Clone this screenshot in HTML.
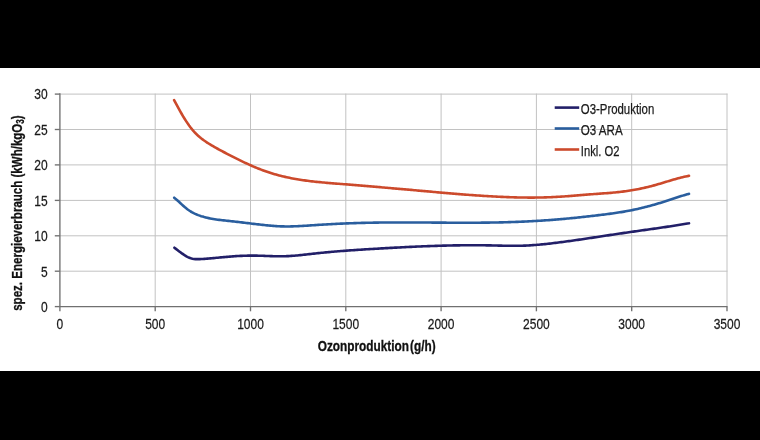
<!DOCTYPE html>
<html><head><meta charset="utf-8"><style>
html,body{margin:0;padding:0;background:#fff;}
svg{display:block;filter:blur(0.4px);}
text{font-family:"Liberation Sans",sans-serif;}
</style></head><body>
<svg width="760" height="440" viewBox="0 0 760 440">
<rect x="0" y="0" width="760" height="440" fill="#fff"/>
<rect x="0" y="0" width="760" height="68" fill="#000"/>
<rect x="0" y="371" width="760" height="69" fill="#000"/>
<g stroke="#c2c2c2" stroke-width="1" fill="none">
<line x1="155.2" y1="93.6" x2="155.2" y2="306.6"/>
<line x1="250.5" y1="93.6" x2="250.5" y2="306.6"/>
<line x1="345.8" y1="93.6" x2="345.8" y2="306.6"/>
<line x1="441.1" y1="93.6" x2="441.1" y2="306.6"/>
<line x1="536.4" y1="93.6" x2="536.4" y2="306.6"/>
<line x1="631.7" y1="93.6" x2="631.7" y2="306.6"/>
<line x1="727.0" y1="93.6" x2="727.0" y2="306.6"/>
<line x1="59.9" y1="271.2" x2="727.5" y2="271.2"/>
<line x1="59.9" y1="235.8" x2="727.5" y2="235.8"/>
<line x1="59.9" y1="200.4" x2="727.5" y2="200.4"/>
<line x1="59.9" y1="164.9" x2="727.5" y2="164.9"/>
<line x1="59.9" y1="129.5" x2="727.5" y2="129.5"/>
<line x1="59.9" y1="94.1" x2="727.5" y2="94.1"/>
</g>
<g stroke="#707070" stroke-width="1.35" fill="none">
<line x1="59.9" y1="93.2" x2="59.9" y2="306.6"/>
<line x1="59.9" y1="306.6" x2="727.5" y2="306.6"/>
<line x1="59.9" y1="306.6" x2="59.9" y2="311.3"/>
<line x1="155.2" y1="306.6" x2="155.2" y2="311.3"/>
<line x1="250.5" y1="306.6" x2="250.5" y2="311.3"/>
<line x1="345.8" y1="306.6" x2="345.8" y2="311.3"/>
<line x1="441.1" y1="306.6" x2="441.1" y2="311.3"/>
<line x1="536.4" y1="306.6" x2="536.4" y2="311.3"/>
<line x1="631.7" y1="306.6" x2="631.7" y2="311.3"/>
<line x1="727.0" y1="306.6" x2="727.0" y2="311.3"/>
<line x1="54.8" y1="306.6" x2="59.9" y2="306.6"/>
<line x1="54.8" y1="271.2" x2="59.9" y2="271.2"/>
<line x1="54.8" y1="235.8" x2="59.9" y2="235.8"/>
<line x1="54.8" y1="200.4" x2="59.9" y2="200.4"/>
<line x1="54.8" y1="164.9" x2="59.9" y2="164.9"/>
<line x1="54.8" y1="129.5" x2="59.9" y2="129.5"/>
<line x1="54.8" y1="94.1" x2="59.9" y2="94.1"/>
</g>
<g fill="#1a1a1a" stroke="#1a1a1a" stroke-width="0.25" font-size="15.5">
<text transform="translate(47.6,311.9) scale(0.775,1)" text-anchor="end">0</text>
<text transform="translate(47.6,276.5) scale(0.775,1)" text-anchor="end">5</text>
<text transform="translate(47.6,241.1) scale(0.775,1)" text-anchor="end">10</text>
<text transform="translate(47.6,205.7) scale(0.775,1)" text-anchor="end">15</text>
<text transform="translate(47.6,170.2) scale(0.775,1)" text-anchor="end">20</text>
<text transform="translate(47.6,134.8) scale(0.775,1)" text-anchor="end">25</text>
<text transform="translate(47.6,99.4) scale(0.775,1)" text-anchor="end">30</text>
<text transform="translate(59.9,329.4) scale(0.775,1)" text-anchor="middle">0</text>
<text transform="translate(155.2,329.4) scale(0.775,1)" text-anchor="middle">500</text>
<text transform="translate(250.5,329.4) scale(0.775,1)" text-anchor="middle">1000</text>
<text transform="translate(345.8,329.4) scale(0.775,1)" text-anchor="middle">1500</text>
<text transform="translate(441.1,329.4) scale(0.775,1)" text-anchor="middle">2000</text>
<text transform="translate(536.4,329.4) scale(0.775,1)" text-anchor="middle">2500</text>
<text transform="translate(631.7,329.4) scale(0.775,1)" text-anchor="middle">3000</text>
<text transform="translate(727.0,329.4) scale(0.775,1)" text-anchor="middle">3500</text>
</g>
<g fill="none" stroke-width="2.6" stroke-linecap="round" stroke-linejoin="round">
<path stroke="#cc4a2c" d="M174.10 100.07 L175.60 102.92 L177.10 105.72 L178.60 108.47 L180.10 111.16 L181.60 113.77 L183.10 116.30 L184.60 118.75 L186.10 121.09 L187.60 123.34 L189.10 125.47 L190.60 127.48 L192.10 129.37 L193.60 131.14 L195.10 132.78 L196.60 134.31 L198.10 135.72 L199.60 137.04 L201.10 138.27 L202.60 139.42 L204.10 140.51 L205.60 141.55 L207.10 142.55 L208.60 143.52 L210.10 144.45 L211.60 145.35 L213.10 146.23 L214.60 147.09 L216.10 147.93 L217.60 148.76 L219.10 149.57 L220.60 150.38 L222.10 151.18 L223.60 151.98 L225.10 152.77 L226.60 153.56 L228.10 154.35 L229.60 155.13 L231.10 155.91 L232.60 156.67 L234.10 157.44 L235.60 158.19 L237.10 158.94 L238.60 159.68 L240.10 160.41 L241.60 161.14 L243.10 161.85 L244.60 162.56 L246.10 163.26 L247.60 163.94 L249.10 164.62 L250.60 165.28 L252.10 165.94 L253.60 166.58 L255.10 167.21 L256.60 167.83 L258.10 168.44 L259.60 169.03 L261.10 169.61 L262.60 170.18 L264.10 170.73 L265.60 171.27 L267.10 171.79 L268.60 172.29 L270.10 172.79 L271.60 173.26 L273.10 173.72 L274.60 174.16 L276.10 174.59 L277.60 175.01 L279.10 175.41 L280.60 175.80 L282.10 176.17 L283.60 176.53 L285.10 176.88 L286.60 177.21 L288.10 177.53 L289.60 177.85 L291.10 178.15 L292.60 178.43 L294.10 178.71 L295.60 178.98 L297.10 179.24 L298.60 179.49 L300.10 179.72 L301.60 179.95 L303.10 180.18 L304.60 180.39 L306.10 180.59 L307.60 180.79 L309.10 180.98 L310.60 181.17 L312.10 181.34 L313.60 181.51 L315.10 181.68 L316.60 181.84 L318.10 181.99 L319.60 182.14 L321.10 182.29 L322.60 182.43 L324.10 182.57 L325.60 182.70 L327.10 182.83 L328.60 182.96 L330.10 183.09 L331.60 183.21 L333.10 183.34 L334.60 183.46 L336.10 183.58 L337.60 183.70 L339.10 183.82 L340.60 183.94 L342.10 184.06 L343.60 184.18 L345.10 184.30 L346.60 184.42 L348.10 184.54 L349.60 184.66 L351.10 184.78 L352.60 184.91 L354.10 185.03 L355.60 185.15 L357.10 185.28 L358.60 185.40 L360.10 185.53 L361.60 185.65 L363.10 185.77 L364.60 185.90 L366.10 186.03 L367.60 186.15 L369.10 186.28 L370.60 186.40 L372.10 186.53 L373.60 186.66 L375.10 186.79 L376.60 186.91 L378.10 187.04 L379.60 187.17 L381.10 187.30 L382.60 187.43 L384.10 187.56 L385.60 187.68 L387.10 187.81 L388.60 187.94 L390.10 188.07 L391.60 188.20 L393.10 188.33 L394.60 188.47 L396.10 188.60 L397.60 188.73 L399.10 188.86 L400.60 188.99 L402.10 189.12 L403.60 189.26 L405.10 189.39 L406.60 189.52 L408.10 189.65 L409.60 189.79 L411.10 189.92 L412.60 190.05 L414.10 190.19 L415.60 190.32 L417.10 190.45 L418.60 190.59 L420.10 190.72 L421.60 190.86 L423.10 190.99 L424.60 191.13 L426.10 191.26 L427.60 191.40 L429.10 191.53 L430.60 191.66 L432.10 191.80 L433.60 191.93 L435.10 192.06 L436.60 192.20 L438.10 192.33 L439.60 192.46 L441.10 192.59 L442.60 192.72 L444.10 192.85 L445.60 192.98 L447.10 193.11 L448.60 193.24 L450.10 193.37 L451.60 193.49 L453.10 193.62 L454.60 193.74 L456.10 193.87 L457.60 193.99 L459.10 194.11 L460.60 194.23 L462.10 194.35 L463.60 194.47 L465.10 194.58 L466.60 194.70 L468.10 194.81 L469.60 194.93 L471.10 195.04 L472.60 195.15 L474.10 195.25 L475.60 195.36 L477.10 195.46 L478.60 195.57 L480.10 195.67 L481.60 195.76 L483.10 195.86 L484.60 195.96 L486.10 196.05 L487.60 196.14 L489.10 196.23 L490.60 196.32 L492.10 196.40 L493.60 196.48 L495.10 196.56 L496.60 196.64 L498.10 196.71 L499.60 196.79 L501.10 196.86 L502.60 196.92 L504.10 196.99 L505.60 197.05 L507.10 197.11 L508.60 197.16 L510.10 197.22 L511.60 197.27 L513.10 197.31 L514.60 197.35 L516.10 197.39 L517.60 197.43 L519.10 197.46 L520.60 197.49 L522.10 197.52 L523.60 197.54 L525.10 197.55 L526.60 197.57 L528.10 197.58 L529.60 197.58 L531.10 197.58 L532.60 197.58 L534.10 197.58 L535.60 197.56 L537.10 197.55 L538.60 197.53 L540.10 197.50 L541.60 197.47 L543.10 197.44 L544.60 197.40 L546.10 197.36 L547.60 197.31 L549.10 197.25 L550.60 197.19 L552.10 197.13 L553.60 197.06 L555.10 196.99 L556.60 196.90 L558.10 196.82 L559.60 196.73 L561.10 196.63 L562.60 196.53 L564.10 196.43 L565.60 196.32 L567.10 196.21 L568.60 196.10 L570.10 195.98 L571.60 195.86 L573.10 195.75 L574.60 195.62 L576.10 195.50 L577.60 195.38 L579.10 195.25 L580.60 195.13 L582.10 195.01 L583.60 194.88 L585.10 194.76 L586.60 194.64 L588.10 194.52 L589.60 194.41 L591.10 194.29 L592.60 194.18 L594.10 194.07 L595.60 193.96 L597.10 193.86 L598.60 193.75 L600.10 193.64 L601.60 193.53 L603.10 193.42 L604.60 193.31 L606.10 193.20 L607.60 193.08 L609.10 192.96 L610.60 192.83 L612.10 192.70 L613.60 192.57 L615.10 192.42 L616.60 192.27 L618.10 192.12 L619.60 191.95 L621.10 191.78 L622.60 191.60 L624.10 191.41 L625.60 191.21 L627.10 190.99 L628.60 190.77 L630.10 190.54 L631.60 190.29 L633.10 190.04 L634.60 189.78 L636.10 189.50 L637.60 189.21 L639.10 188.92 L640.60 188.61 L642.10 188.29 L643.60 187.97 L645.10 187.63 L646.60 187.28 L648.10 186.92 L649.60 186.55 L651.10 186.16 L652.60 185.77 L654.10 185.37 L655.60 184.95 L657.10 184.53 L658.60 184.09 L660.10 183.65 L661.60 183.20 L663.10 182.75 L664.60 182.30 L666.10 181.84 L667.60 181.38 L669.10 180.93 L670.60 180.47 L672.10 180.03 L673.60 179.59 L675.10 179.15 L676.60 178.73 L678.10 178.32 L679.60 177.92 L681.10 177.53 L682.60 177.16 L684.10 176.81 L685.60 176.48 L687.10 176.17 L688.60 175.88 L689.00 175.80"/>
<path stroke="#2a5e9e" d="M174.20 197.74 L175.70 198.93 L177.20 200.21 L178.70 201.56 L180.20 202.94 L181.70 204.34 L183.20 205.71 L184.70 207.05 L186.20 208.31 L187.70 209.48 L189.20 210.53 L190.70 211.50 L192.20 212.36 L193.70 213.15 L195.20 213.87 L196.70 214.51 L198.20 215.10 L199.70 215.64 L201.20 216.15 L202.70 216.61 L204.20 217.04 L205.70 217.43 L207.20 217.80 L208.70 218.14 L210.20 218.45 L211.70 218.73 L213.20 219.00 L214.70 219.24 L216.20 219.47 L217.70 219.68 L219.20 219.87 L220.70 220.06 L222.20 220.23 L223.70 220.40 L225.20 220.57 L226.70 220.73 L228.20 220.89 L229.70 221.05 L231.20 221.21 L232.70 221.38 L234.20 221.55 L235.70 221.72 L237.20 221.89 L238.70 222.06 L240.20 222.23 L241.70 222.41 L243.20 222.59 L244.70 222.76 L246.20 222.94 L247.70 223.12 L249.20 223.30 L250.70 223.48 L252.20 223.67 L253.70 223.85 L255.20 224.03 L256.70 224.21 L258.20 224.39 L259.70 224.56 L261.20 224.73 L262.70 224.90 L264.20 225.06 L265.70 225.22 L267.20 225.37 L268.70 225.51 L270.20 225.65 L271.70 225.77 L273.20 225.89 L274.70 226.00 L276.20 226.10 L277.70 226.19 L279.20 226.27 L280.70 226.33 L282.20 226.38 L283.70 226.42 L285.20 226.44 L286.70 226.45 L288.20 226.45 L289.70 226.43 L291.20 226.41 L292.70 226.37 L294.20 226.32 L295.70 226.27 L297.20 226.20 L298.70 226.13 L300.20 226.06 L301.70 225.97 L303.20 225.88 L304.70 225.79 L306.20 225.70 L307.70 225.60 L309.20 225.50 L310.70 225.39 L312.20 225.29 L313.70 225.19 L315.20 225.09 L316.70 224.99 L318.20 224.89 L319.70 224.80 L321.20 224.70 L322.70 224.61 L324.20 224.52 L325.70 224.44 L327.20 224.35 L328.70 224.27 L330.20 224.19 L331.70 224.11 L333.20 224.03 L334.70 223.95 L336.20 223.88 L337.70 223.81 L339.20 223.74 L340.70 223.67 L342.20 223.60 L343.70 223.54 L345.20 223.47 L346.70 223.41 L348.20 223.36 L349.70 223.30 L351.20 223.24 L352.70 223.19 L354.20 223.14 L355.70 223.09 L357.20 223.04 L358.70 223.00 L360.20 222.96 L361.70 222.91 L363.20 222.87 L364.70 222.84 L366.20 222.80 L367.70 222.77 L369.20 222.74 L370.70 222.71 L372.20 222.68 L373.70 222.65 L375.20 222.63 L376.70 222.60 L378.20 222.58 L379.70 222.56 L381.20 222.55 L382.70 222.53 L384.20 222.51 L385.70 222.50 L387.20 222.49 L388.70 222.48 L390.20 222.47 L391.70 222.46 L393.20 222.46 L394.70 222.45 L396.20 222.45 L397.70 222.44 L399.20 222.44 L400.70 222.44 L402.20 222.44 L403.70 222.44 L405.20 222.44 L406.70 222.45 L408.20 222.45 L409.70 222.46 L411.20 222.46 L412.70 222.47 L414.20 222.47 L415.70 222.48 L417.20 222.49 L418.70 222.50 L420.20 222.50 L421.70 222.51 L423.20 222.52 L424.70 222.53 L426.20 222.54 L427.70 222.55 L429.20 222.56 L430.70 222.57 L432.20 222.58 L433.70 222.59 L435.20 222.60 L436.70 222.61 L438.20 222.62 L439.70 222.63 L441.20 222.64 L442.70 222.65 L444.20 222.66 L445.70 222.67 L447.20 222.68 L448.70 222.69 L450.20 222.70 L451.70 222.70 L453.20 222.71 L454.70 222.72 L456.20 222.72 L457.70 222.73 L459.20 222.73 L460.70 222.73 L462.20 222.74 L463.70 222.74 L465.20 222.74 L466.70 222.74 L468.20 222.74 L469.70 222.74 L471.20 222.73 L472.70 222.73 L474.20 222.72 L475.70 222.72 L477.20 222.71 L478.70 222.70 L480.20 222.69 L481.70 222.67 L483.20 222.66 L484.70 222.65 L486.20 222.63 L487.70 222.61 L489.20 222.59 L490.70 222.57 L492.20 222.55 L493.70 222.52 L495.20 222.49 L496.70 222.46 L498.20 222.43 L499.70 222.40 L501.20 222.37 L502.70 222.33 L504.20 222.29 L505.70 222.25 L507.20 222.21 L508.70 222.16 L510.20 222.11 L511.70 222.06 L513.20 222.01 L514.70 221.96 L516.20 221.90 L517.70 221.84 L519.20 221.78 L520.70 221.72 L522.20 221.65 L523.70 221.59 L525.20 221.52 L526.70 221.44 L528.20 221.37 L529.70 221.29 L531.20 221.21 L532.70 221.13 L534.20 221.05 L535.70 220.96 L537.20 220.87 L538.70 220.78 L540.20 220.69 L541.70 220.59 L543.20 220.49 L544.70 220.39 L546.20 220.29 L547.70 220.18 L549.20 220.08 L550.70 219.96 L552.20 219.85 L553.70 219.74 L555.20 219.62 L556.70 219.50 L558.20 219.37 L559.70 219.25 L561.20 219.12 L562.70 218.99 L564.20 218.85 L565.70 218.72 L567.20 218.58 L568.70 218.44 L570.20 218.29 L571.70 218.15 L573.20 218.00 L574.70 217.85 L576.20 217.69 L577.70 217.54 L579.20 217.38 L580.70 217.22 L582.20 217.06 L583.70 216.90 L585.20 216.73 L586.70 216.56 L588.20 216.39 L589.70 216.22 L591.20 216.05 L592.70 215.88 L594.20 215.70 L595.70 215.52 L597.20 215.34 L598.70 215.16 L600.20 214.98 L601.70 214.80 L603.20 214.62 L604.70 214.43 L606.20 214.24 L607.70 214.05 L609.20 213.85 L610.70 213.65 L612.20 213.44 L613.70 213.23 L615.20 213.02 L616.70 212.80 L618.20 212.57 L619.70 212.34 L621.20 212.10 L622.70 211.85 L624.20 211.60 L625.70 211.33 L627.20 211.06 L628.70 210.78 L630.20 210.50 L631.70 210.20 L633.20 209.89 L634.70 209.57 L636.20 209.25 L637.70 208.91 L639.20 208.57 L640.70 208.21 L642.20 207.85 L643.70 207.48 L645.20 207.10 L646.70 206.72 L648.20 206.32 L649.70 205.92 L651.20 205.51 L652.70 205.09 L654.20 204.66 L655.70 204.22 L657.20 203.78 L658.70 203.33 L660.20 202.88 L661.70 202.41 L663.20 201.94 L664.70 201.46 L666.20 200.98 L667.70 200.49 L669.20 199.99 L670.70 199.50 L672.20 199.00 L673.70 198.51 L675.20 198.01 L676.70 197.52 L678.20 197.04 L679.70 196.56 L681.20 196.09 L682.70 195.62 L684.20 195.17 L685.70 194.73 L687.20 194.30 L688.70 193.89 L689.00 193.81"/>
<path stroke="#221f68" d="M174.40 247.70 L175.90 248.85 L177.40 250.01 L178.90 251.16 L180.40 252.29 L181.90 253.39 L183.40 254.43 L184.90 255.40 L186.40 256.29 L187.90 257.07 L189.40 257.73 L190.90 258.27 L192.40 258.67 L193.90 258.95 L195.40 259.11 L196.90 259.17 L198.40 259.16 L199.90 259.10 L201.40 259.02 L202.90 258.94 L204.40 258.84 L205.90 258.74 L207.40 258.62 L208.90 258.50 L210.40 258.38 L211.90 258.25 L213.40 258.11 L214.90 257.97 L216.40 257.83 L217.90 257.68 L219.40 257.54 L220.90 257.39 L222.40 257.25 L223.90 257.11 L225.40 256.97 L226.90 256.84 L228.40 256.71 L229.90 256.58 L231.40 256.47 L232.90 256.36 L234.40 256.25 L235.90 256.16 L237.40 256.07 L238.90 255.98 L240.40 255.91 L241.90 255.84 L243.40 255.78 L244.90 255.73 L246.40 255.69 L247.90 255.65 L249.40 255.63 L250.90 255.61 L252.40 255.61 L253.90 255.61 L255.40 255.62 L256.90 255.64 L258.40 255.68 L259.90 255.71 L261.40 255.76 L262.90 255.81 L264.40 255.87 L265.90 255.93 L267.40 255.98 L268.90 256.04 L270.40 256.10 L271.90 256.15 L273.40 256.20 L274.90 256.24 L276.40 256.27 L277.90 256.30 L279.40 256.31 L280.90 256.31 L282.40 256.30 L283.90 256.27 L285.40 256.23 L286.90 256.17 L288.40 256.10 L289.90 256.02 L291.40 255.92 L292.90 255.81 L294.40 255.69 L295.90 255.56 L297.40 255.43 L298.90 255.28 L300.40 255.13 L301.90 254.97 L303.40 254.81 L304.90 254.64 L306.40 254.48 L307.90 254.31 L309.40 254.13 L310.90 253.96 L312.40 253.79 L313.90 253.62 L315.40 253.45 L316.90 253.29 L318.40 253.13 L319.90 252.97 L321.40 252.82 L322.90 252.67 L324.40 252.52 L325.90 252.37 L327.40 252.23 L328.90 252.09 L330.40 251.96 L331.90 251.82 L333.40 251.69 L334.90 251.56 L336.40 251.44 L337.90 251.31 L339.40 251.19 L340.90 251.07 L342.40 250.96 L343.90 250.84 L345.40 250.73 L346.90 250.62 L348.40 250.51 L349.90 250.40 L351.40 250.30 L352.90 250.19 L354.40 250.09 L355.90 249.99 L357.40 249.89 L358.90 249.79 L360.40 249.69 L361.90 249.60 L363.40 249.50 L364.90 249.41 L366.40 249.32 L367.90 249.22 L369.40 249.13 L370.90 249.04 L372.40 248.95 L373.90 248.86 L375.40 248.77 L376.90 248.69 L378.40 248.60 L379.90 248.51 L381.40 248.42 L382.90 248.34 L384.40 248.25 L385.90 248.17 L387.40 248.08 L388.90 248.00 L390.40 247.92 L391.90 247.83 L393.40 247.75 L394.90 247.67 L396.40 247.59 L397.90 247.51 L399.40 247.43 L400.90 247.36 L402.40 247.28 L403.90 247.20 L405.40 247.13 L406.90 247.06 L408.40 246.98 L409.90 246.91 L411.40 246.84 L412.90 246.77 L414.40 246.70 L415.90 246.64 L417.40 246.57 L418.90 246.51 L420.40 246.44 L421.90 246.38 L423.40 246.32 L424.90 246.26 L426.40 246.20 L427.90 246.15 L429.40 246.09 L430.90 246.04 L432.40 245.98 L433.90 245.93 L435.40 245.88 L436.90 245.84 L438.40 245.79 L439.90 245.75 L441.40 245.70 L442.90 245.66 L444.40 245.62 L445.90 245.59 L447.40 245.55 L448.90 245.52 L450.40 245.48 L451.90 245.45 L453.40 245.42 L454.90 245.40 L456.40 245.37 L457.90 245.35 L459.40 245.33 L460.90 245.31 L462.40 245.30 L463.90 245.28 L465.40 245.27 L466.90 245.26 L468.40 245.25 L469.90 245.24 L471.40 245.24 L472.90 245.24 L474.40 245.24 L475.90 245.24 L477.40 245.25 L478.90 245.26 L480.40 245.27 L481.90 245.28 L483.40 245.29 L484.90 245.31 L486.40 245.33 L487.90 245.35 L489.40 245.38 L490.90 245.41 L492.40 245.44 L493.90 245.47 L495.40 245.50 L496.90 245.54 L498.40 245.58 L499.90 245.61 L501.40 245.64 L502.90 245.68 L504.40 245.71 L505.90 245.74 L507.40 245.76 L508.90 245.78 L510.40 245.80 L511.90 245.81 L513.40 245.82 L514.90 245.82 L516.40 245.81 L517.90 245.80 L519.40 245.77 L520.90 245.74 L522.40 245.70 L523.90 245.65 L525.40 245.59 L526.90 245.52 L528.40 245.44 L529.90 245.36 L531.40 245.26 L532.90 245.16 L534.40 245.05 L535.90 244.93 L537.40 244.81 L538.90 244.68 L540.40 244.54 L541.90 244.40 L543.40 244.25 L544.90 244.10 L546.40 243.94 L547.90 243.77 L549.40 243.61 L550.90 243.43 L552.40 243.26 L553.90 243.08 L555.40 242.89 L556.90 242.71 L558.40 242.52 L559.90 242.33 L561.40 242.13 L562.90 241.94 L564.40 241.74 L565.90 241.54 L567.40 241.33 L568.90 241.13 L570.40 240.92 L571.90 240.71 L573.40 240.50 L574.90 240.29 L576.40 240.07 L577.90 239.86 L579.40 239.64 L580.90 239.42 L582.40 239.20 L583.90 238.98 L585.40 238.76 L586.90 238.53 L588.40 238.31 L589.90 238.08 L591.40 237.86 L592.90 237.63 L594.40 237.41 L595.90 237.18 L597.40 236.95 L598.90 236.72 L600.40 236.50 L601.90 236.27 L603.40 236.04 L604.90 235.81 L606.40 235.58 L607.90 235.36 L609.40 235.13 L610.90 234.90 L612.40 234.68 L613.90 234.45 L615.40 234.23 L616.90 234.00 L618.40 233.78 L619.90 233.56 L621.40 233.34 L622.90 233.12 L624.40 232.90 L625.90 232.68 L627.40 232.47 L628.90 232.25 L630.40 232.03 L631.90 231.82 L633.40 231.61 L634.90 231.39 L636.40 231.18 L637.90 230.97 L639.40 230.76 L640.90 230.54 L642.40 230.33 L643.90 230.12 L645.40 229.91 L646.90 229.70 L648.40 229.48 L649.90 229.27 L651.40 229.06 L652.90 228.84 L654.40 228.63 L655.90 228.42 L657.40 228.20 L658.90 227.98 L660.40 227.77 L661.90 227.55 L663.40 227.33 L664.90 227.11 L666.40 226.88 L667.90 226.66 L669.40 226.44 L670.90 226.21 L672.40 225.98 L673.90 225.75 L675.40 225.52 L676.90 225.29 L678.40 225.05 L679.90 224.81 L681.40 224.57 L682.90 224.33 L684.40 224.09 L685.90 223.84 L687.40 223.59 L688.90 223.34 L689.00 223.32"/>
</g>
<g stroke-width="2.6" fill="none">
<line x1="554.7" y1="107.6" x2="579.2" y2="107.6" stroke="#221f68"/>
<line x1="554.7" y1="128.5" x2="579.2" y2="128.5" stroke="#2a5e9e"/>
<line x1="554.7" y1="149.5" x2="579.2" y2="149.5" stroke="#cc4a2c"/>
</g>
<g fill="#1a1a1a" stroke="#1a1a1a" stroke-width="0.25" font-size="14.6">
<text x="580.8" y="113.6" textLength="73.5" lengthAdjust="spacingAndGlyphs">O3-Produktion</text>
<text x="580.8" y="134.5" textLength="41.9" lengthAdjust="spacingAndGlyphs">O3 ARA</text>
<text x="580.8" y="155.5" textLength="38.7" lengthAdjust="spacingAndGlyphs">Inkl. O2</text>
</g>
<g fill="#111" stroke="#111" stroke-width="0.3" font-weight="bold">
<text font-size="14" x="317.7" y="350.9" word-spacing="-2.5" textLength="118" lengthAdjust="spacingAndGlyphs">Ozonproduktion (g/h)</text>
<text font-size="14.2" transform="translate(21.8,310.8) rotate(-90)" x="0" y="0" textLength="195.5" lengthAdjust="spacingAndGlyphs">spez. Energieverbrauch (kWh/kgO<tspan font-size="10" dy="2">3</tspan><tspan dy="-2">)</tspan></text>
</g>
</svg>
</body></html>
